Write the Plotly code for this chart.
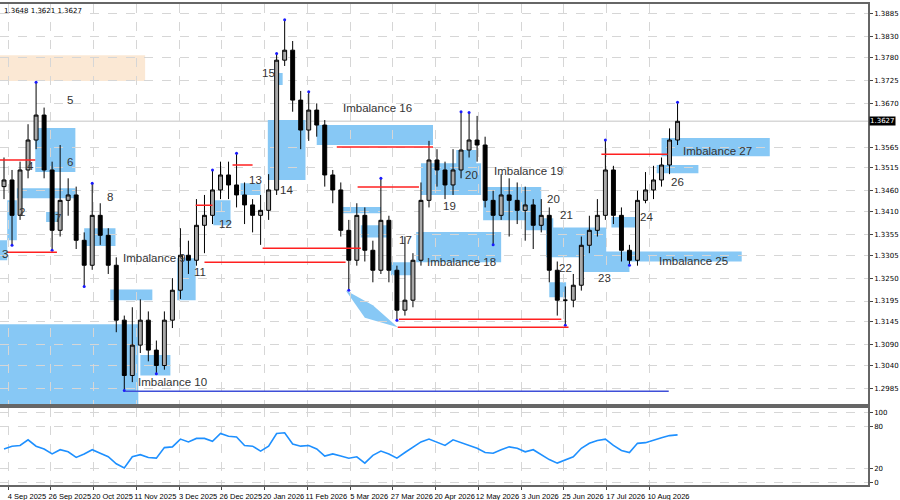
import plotly.graph_objects as go

# ---------------- data ----------------
opens = [1.3470,1.3486,1.3401,1.3510,1.3582,1.3642,1.3510,1.3365,1.3437,1.3450,
         1.3341,1.3281,1.3401,1.3353,1.3281,1.3149,1.3016,1.3089,1.3149,1.3077,
         1.3040,1.3149,1.3221,1.3305,1.3293,1.3377,1.3401,1.3462,1.3498,1.3474,
         1.3450,1.3426,1.3401,1.3413,1.3462,1.3774,1.3798,1.3678,1.3606,1.3654,
         1.3618,1.3498,1.3462,1.3365,1.3293,1.3401,1.3317,1.3269,1.3389,1.3269,
         1.3173,1.3197,1.3293,1.3437,1.3534,1.3510,1.3474,1.3510,1.3558,1.3582,
         1.3570,1.3437,1.3401,1.3450,1.3437,1.3413,1.3426,1.3377,1.3401,1.3269,
         1.3197,1.3197,1.3233,1.3329,1.3365,1.3401,1.3510,1.3401,1.3317,1.3293,
         1.3437,1.3462,1.3486,1.3522,1.3582]
closes = [1.3486,1.3401,1.3510,1.3582,1.3642,1.3510,1.3365,1.3437,1.3450,1.3341,
          1.3281,1.3401,1.3353,1.3281,1.3149,1.3016,1.3089,1.3149,1.3077,1.3040,
          1.3149,1.3221,1.3305,1.3293,1.3377,1.3401,1.3462,1.3498,1.3474,1.3450,
          1.3426,1.3401,1.3413,1.3462,1.3774,1.3798,1.3678,1.3606,1.3654,1.3618,
          1.3498,1.3462,1.3365,1.3293,1.3401,1.3317,1.3269,1.3389,1.3269,1.3173,
          1.3197,1.3293,1.3437,1.3534,1.3510,1.3474,1.3510,1.3558,1.3582,1.3570,
          1.3437,1.3401,1.3450,1.3437,1.3413,1.3426,1.3377,1.3401,1.3269,1.3197,
          1.3197,1.3233,1.3329,1.3365,1.3401,1.3510,1.3401,1.3317,1.3293,1.3437,
          1.3462,1.3486,1.3522,1.3582,1.3627]
highs = [1.3540,1.3510,1.3530,1.3620,1.3721,1.3660,1.3530,1.3570,1.3490,1.3470,
         1.3360,1.3478,1.3430,1.3370,1.3300,1.3160,1.3180,1.3199,1.3170,1.3100,
         1.3170,1.3250,1.3370,1.3340,1.3440,1.3450,1.3510,1.3530,1.3530,1.3550,
         1.3480,1.3440,1.3450,1.3500,1.3790,1.3871,1.3820,1.3700,1.3698,1.3670,
         1.3630,1.3510,1.3480,1.3390,1.3430,1.3420,1.3340,1.3490,1.3400,1.3280,
         1.3350,1.3310,1.3480,1.3580,1.3560,1.3530,1.3560,1.3650,1.3648,1.3640,
         1.3590,1.3460,1.3500,1.3490,1.3480,1.3470,1.3440,1.3440,1.3420,1.3290,
         1.3230,1.3260,1.3350,1.3400,1.3440,1.3582,1.3520,1.3420,1.3330,1.3460,
         1.3505,1.3520,1.3540,1.3610,1.3673]
lows = [1.3440,1.3329,1.3390,1.3490,1.3560,1.3490,1.3317,1.3350,1.3400,1.3320,
        1.3230,1.3270,1.3330,1.3260,1.3120,1.2980,1.3000,1.3070,1.3050,1.3020,
        1.3030,1.3130,1.3200,1.3260,1.3280,1.3310,1.3380,1.3440,1.3440,1.3420,
        1.3380,1.3360,1.3330,1.3390,1.3450,1.3760,1.3650,1.3560,1.3580,1.3590,
        1.3470,1.3430,1.3350,1.3221,1.3280,1.3290,1.3240,1.3260,1.3240,1.3149,
        1.3160,1.3180,1.3280,1.3420,1.3470,1.3440,1.3450,1.3490,1.3540,1.3530,
        1.3420,1.3330,1.3390,1.3350,1.3380,1.3340,1.3320,1.3360,1.3240,1.3160,
        1.3137,1.3180,1.3220,1.3310,1.3350,1.3390,1.3380,1.3290,1.3281,1.3280,
        1.3430,1.3440,1.3470,1.3500,1.3570]
osc = [48,52,53,61,52,48,41,47,44,36,41,47,42,37,27,21,37,40,36,35,
       50,51,62,58,63,63,59,70,66,65,53,52,45,52,70,71,55,52,53,48,
       38,41,38,35,37,28,39,45,41,35,43,51,58,62,58,53,61,57,53,49,
       43,42,47,51,49,44,47,40,33,28,32,37,49,56,60,62,53,46,43,56,
       57,61,64,67,68]
date_labels = ["4 Sep 2025","26 Sep 2025","20 Oct 2025","11 Nov 2025","3 Dec 2025",
               "26 Dec 2025","20 Jan 2026","11 Feb 2026","5 Mar 2026","27 Mar 2026",
               "20 Apr 2026","12 May 2026","3 Jun 2026","25 Jun 2026","17 Jul 2026",
               "10 Aug 2026"]
price_ticks = [1.3885,1.3830,1.3780,1.3725,1.3670,1.3565,1.3515,1.3460,1.3410,
               1.3355,1.3305,1.3250,1.3195,1.3145,1.3090,1.3040,1.2985]
fractal_up = [4,11,26,29,34,35,38,47,57,58,75,84]
fractal_dn = [1,6,10,15,19,43,49,61,70,78]

# zones: (x0, x1, top, bottom)
zones = [(-0.5,16.75,1.3139,1.2940),(3.9,8.9,1.3611,1.3505),(1.6,8.9,1.3466,1.3442),
         (0.4,1.6,1.3437,1.3341),(-0.5,0.4,1.3341,1.3293),(5.25,7.25,1.3409,1.3385),
         (10,13.9,1.3370,1.3327),(13.25,18.5,1.3223,1.3197),(17,20.75,1.3065,1.3016),
         (21.6,23.9,1.3298,1.3197),(26.1,28.25,1.3437,1.3377),(29.5,32,1.3478,1.3450),
         (32.9,37.6,1.3630,1.3486),(33.9,34.75,1.3743,1.3714),(39,53.5,1.3618,1.3570),
         (42,47,1.3421,1.3406),(44.5,48,1.3377,1.3348),(48.25,50.75,1.3288,1.3257),
         (51.4,62,1.3361,1.3288),(52,59.5,1.3526,1.3450),(56.4,58.9,1.3558,1.3514),
         (59.75,67,1.3469,1.3389),(65.1,68.5,1.3394,1.3365),(67.6,75.1,1.3372,1.3300),
         (68,70.1,1.3240,1.3204),(71.75,78,1.3312,1.3265),(74,92,1.3314,1.3290),
         (75.75,79.1,1.3397,1.3372),(81.4,86.6,1.3522,1.3502),(82,95.5,1.3587,1.3543)]
red_lines = [(-0.5,3.9,1.3534),(0.4,6.6,1.3312),(23.9,26,1.3425),(25,42.6,1.3288),
             (28.5,31,1.3522),(32.25,44.5,1.3322),(41.5,53.5,1.3565),(44.1,51.75,1.3469),
             (49.25,69.5,1.3151),(49.1,70.4,1.3132),(74.5,82.75,1.3548)]
labels = [("5",8.25,1.3678),("6",8.25,1.3529),("4",3.25,1.3519),("2",2.25,1.3409),
          ("7",6.75,1.3394),("3",0.1,1.3307),("8",13.25,1.3445),("Imbalance 9",18.8,1.3298),
          ("11",24.5,1.3264),("12",27.6,1.3380),("13",31.4,1.3486),("14",35.25,1.3462),
          ("15",33,1.3743),("Imbalance 16",46.6,1.3658),("17",50.1,1.3341),
          ("Imbalance 18",57,1.3290),("19",55.6,1.3423),("20",58.25,1.3498),
          ("Imbalance 19",65.4,1.3508),("20",68.5,1.3440),("21",70.1,1.3401),
          ("22",70,1.3274),("23",74.9,1.3250),("24",80.1,1.3397),("26",84,1.3481),
          ("Imbalance 25",86,1.3291),("Imbalance 27",89,1.3555),("Imbalance 10",21,1.3000)]
last_price = 1.3627

# ---------------- figure ----------------
x = list(range(len(closes)))
fig = go.Figure()
fig.add_trace(go.Candlestick(x=x, open=opens, high=highs, low=lows, close=closes,
    increasing=dict(line=dict(color="#000000", width=1), fillcolor="#a8a8a8"),
    decreasing=dict(line=dict(color="#000000", width=1), fillcolor="#000000"),
    whiskerwidth=0, showlegend=False, xaxis="x", yaxis="y"))
fig.add_trace(go.Scatter(x=fractal_up, y=[highs[i] for i in fractal_up], mode="markers",
    marker=dict(color="#1a1aff", size=3), showlegend=False))
fig.add_trace(go.Scatter(x=fractal_dn, y=[lows[i] for i in fractal_dn], mode="markers",
    marker=dict(color="#1a1aff", size=3), showlegend=False))
fig.add_trace(go.Scatter(x=x, y=osc, mode="lines", line=dict(color="#1e90ff", width=1.6),
    xaxis="x2", yaxis="y2", showlegend=False))

shapes = []
shapes.append(dict(type="rect", xref="x", yref="y", x0=-0.5, x1=17.6, y0=1.3724, y1=1.3786,
                   fillcolor="#fbe8d4", line=dict(width=0), layer="below"))
for x0, x1, t, b in zones:
    shapes.append(dict(type="rect", xref="x", yref="y", x0=x0, x1=x1, y0=b, y1=t,
                       fillcolor="#87c8f5", line=dict(width=0), layer="below"))
shapes.append(dict(type="path", xref="x", yref="y", layer="below",
                   path="M 42.6 1.3221 L 46 1.3185 L 49.1 1.3132 L 45 1.3155 Z",
                   fillcolor="#87c8f5", line=dict(width=0)))
for x0, x1, p in red_lines:
    shapes.append(dict(type="line", xref="x", yref="y", x0=x0, x1=x1, y0=p, y1=p,
                       line=dict(color="#ff2020", width=1.5)))
shapes.append(dict(type="line", xref="x", yref="y", x0=15.1, x1=82.9, y0=1.2978, y1=1.2978,
                   line=dict(color="#3f4fd8", width=1.5)))
shapes.append(dict(type="line", xref="paper", yref="y", x0=0, x1=1, y0=last_price, y1=last_price,
                   line=dict(color="#d8d8d8", width=1.5), layer="below"))
fig.update_layout(shapes=shapes)

ann = []
for t, lx, ly in labels:
    ann.append(dict(text=t, x=lx, y=ly, xref="x", yref="y", showarrow=False,
                    font=dict(size=11.5, color="#333333", family="Liberation Sans")))
ann.append(dict(text="1.3648 1.3621 1.3627", x=0.002, y=0.997, xref="paper", yref="paper",
                xanchor="left", yanchor="top", showarrow=False,
                font=dict(size=7, color="#000", family="DejaVu Sans")))
ann.append(dict(text=f"{last_price:.4f}", x=1.0, y=last_price, xref="paper", yref="y",
                xanchor="left", showarrow=False, bgcolor="#000000", xshift=1, borderpad=0,
                font=dict(size=7, color="#ffffff", family="DejaVu Sans")))
fig.update_layout(annotations=ann)

tickpos = [0.5 + 5.333 * k for k in range(len(date_labels))]
grid = dict(showgrid=True, gridcolor="#d6d6d6", griddash="dash", gridwidth=1)
tf = dict(size=7, family="DejaVu Sans", color="#000")
tfx = dict(size=7.5, family="Liberation Sans", color="#000")
fig.update_layout(
    width=900, height=500, paper_bgcolor="white", plot_bgcolor="white",
    margin=dict(l=0, r=32, t=4, b=15, autoexpand=False), dragmode=False,
    xaxis=dict(domain=[0, 1], range=[-0.5, 107.75], anchor="y", showticklabels=False,
               tickvals=tickpos, rangeslider=dict(visible=False), showline=True,
               mirror=True, linecolor="#666", linewidth=2, zeroline=False,
               automargin=False, **grid),
    yaxis=dict(domain=[0.168, 1], range=[1.2947, 1.3909], side="right", tickvals=price_ticks,
               ticktext=[f"{v:.4f}" for v in price_ticks], showline=True, mirror=True,
               linecolor="#666", linewidth=1.5, ticks="outside", ticklen=3,
               tickfont=tf, zeroline=False, automargin=False, **grid),
    xaxis2=dict(domain=[0, 1], range=[-0.5, 107.75], anchor="y2", tickvals=tickpos,
                ticktext=date_labels, ticks="outside", ticklen=3, ticklabelshift=19,
                tickangle=0, tickfont=tfx, showline=True, automargin=False,
                mirror=True, linecolor="#666", linewidth=2, zeroline=False, **grid),
    yaxis2=dict(domain=[0, 0.16], range=[-3, 106], side="right", tickvals=[100, 80, 20, 0],
                showline=True, mirror=True, linecolor="#666", linewidth=1.5, ticks="outside",
                ticklen=3, tickfont=tf, zeroline=False, automargin=False, **grid),
)
fig.write_html("out.html", config={"displayModeBar": False},
               post_script="document.body.style.margin='0';document.body.style.overflow='hidden';")
